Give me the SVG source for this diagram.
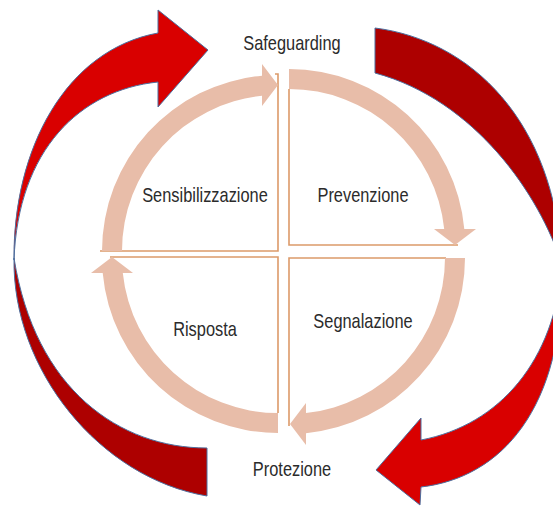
<svg xmlns="http://www.w3.org/2000/svg" width="553" height="506" viewBox="0 0 553 506">
<style>
.lbl{font-family:"Liberation Sans",Arial,sans-serif;font-size:20px;fill:#2b2b2b;text-anchor:middle}
.ring{fill:#e8bda9}
.edge{fill:none;stroke:#dc9a69;stroke-width:1.6}
.front{fill:#d90000;stroke:#4d6f9f;stroke-width:1}
.back{fill:#ad0000;stroke:#4d6f9f;stroke-width:1}
</style>
<rect width="553" height="506" fill="#ffffff"/>
<g id="connectors">
  <path class="back" d="M375,28 C470,40 555,120 562,265 C540,195 475,100 375,73 Z"/>
  <path class="front" d="M562,265 C555,360 500,425 421,440 L421,418 L376,470 L420,505 L421,487 C500,478 565,410 562,265 Z"/>
  <path class="back" d="M14,258 C12,370 100,478 207,496 L207,448 C120,448 35,390 14,258 Z"/>
  <path class="front" d="M14,260 C13,150 65,50 158,33 L158,10 L208,50 L158,107 L158,82 C80,90 18,150 14,260 Z"/>
</g>
<g id="sensibilizzazione">
  <path class="edge" d="M275,74 L278,74 L278,251 L100,251"/>
  <path class="ring" d="M102,251 A176,176 0 0 1 262,75.7 L262,64 L278,85 L262,106 L262,95.8 A156,156 0 0 0 122,251 Z"/>
  <text class="lbl" transform="translate(205,202) scale(0.82,1)">Sensibilizzazione</text>
</g>
<g id="prevenzione">
  <path class="edge" d="M289,89 L289,245 L458,245"/>
  <path class="ring" d="M289,69 A176,176 0 0 1 464.3,229 L476,229 L455,245 L434,229 L444.2,229 A156,156 0 0 0 289,89 Z"/>
  <text class="lbl" transform="translate(363,202) scale(0.82,1)">Prevenzione</text>
</g>
<g id="segnalazione">
  <path class="edge" d="M446,258 L289,258 L289,426"/>
  <path class="ring" d="M465,258 A176,176 0 0 1 306,433.2 L306,445 L290,424 L306,403 L306,413.1 A156,156 0 0 0 445,258 Z"/>
  <text class="lbl" transform="translate(363,328) scale(0.82,1)">Segnalazione</text>
</g>
<g id="risposta">
  <path class="edge" d="M110,257 L278,257 L278,413"/>
  <path class="ring" d="M278,433 A176,176 0 0 1 102.7,273 L91,273 L112,257 L133,273 L122.8,273 A156,156 0 0 0 278,413 Z"/>
  <text class="lbl" transform="translate(205,336) scale(0.82,1)">Risposta</text>
</g>
<g id="safeguarding">
  <text class="lbl" transform="translate(292,50) scale(0.82,1)">Safeguarding</text>
</g>
<g id="protezione">
  <text class="lbl" transform="translate(292,476) scale(0.82,1)">Protezione</text>
</g>
</svg>
